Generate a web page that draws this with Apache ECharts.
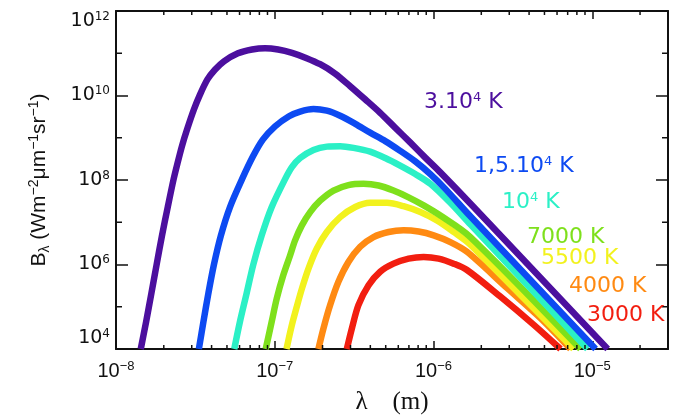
<!DOCTYPE html>
<html>
<head>
    <meta charset="utf8">
    <title>Planck</title>
    <script src="https://cdn.jsdelivr.net/npm/echarts@6/dist/echarts.min.js"></script>
</head>
<body style="margin:0">
    <div id="main" style="width: 680px;height:420px;"></div>
    <script type="text/javascript">
        // curves: [log10(lambda / m), log10(B)]
        var t30000 = [[-7.844,4.00],[-7.810,4.65],[-7.777,5.32],[-7.744,6.00],[-7.710,6.69],[-7.674,7.36],[-7.637,8.02],[-7.611,8.42],[-7.584,8.81],[-7.552,9.20],[-7.509,9.67],[-7.471,10.02],[-7.424,10.38],[-7.377,10.61],[-7.320,10.81],[-7.232,11.0],[-7.143,11.09],[-7.061,11.12],[-6.979,11.09],[-6.891,11.01],[-6.803,10.89],[-6.714,10.74],[-6.620,10.52],[-6.525,10.22],[-6.431,9.91],[-6.336,9.59],[-6.242,9.24],[-6.147,8.89],[-6.052,8.53],[-5.957,8.18],[-5.747,7.36],[-4.903,4.00]];
        var t15000 = [[-7.478,4.00],[-7.449,4.65],[-7.418,5.32],[-7.383,6.00],[-7.339,6.69],[-7.282,7.36],[-7.206,8.02],[-7.137,8.56],[-7.074,8.96],[-6.998,9.27],[-6.910,9.51],[-6.840,9.62],[-6.756,9.68],[-6.672,9.64],[-6.588,9.52],[-6.493,9.33],[-6.399,9.12],[-6.304,8.92],[-6.210,8.69],[-6.115,8.44],[-6.020,8.14],[-5.926,7.79],[-5.768,7.14],[-4.979,4.00]];
        var t10000 = [[-7.255,4.00],[-7.219,4.65],[-7.177,5.32],[-7.135,6.00],[-7.082,6.69],[-7.019,7.36],[-6.935,8.02],[-6.891,8.31],[-6.840,8.52],[-6.756,8.71],[-6.672,8.79],[-6.588,8.80],[-6.504,8.76],[-6.399,8.67],[-6.304,8.52],[-6.210,8.34],[-6.115,8.14],[-6.020,7.91],[-5.894,7.46],[-5.768,6.95],[-5.030,4.00]];
        var t7000 = [[-7.057,4.00],[-7.019,4.65],[-6.987,5.20],[-6.946,5.75],[-6.903,6.22],[-6.872,6.57],[-6.830,6.92],[-6.777,7.24],[-6.714,7.51],[-6.630,7.75],[-6.536,7.88],[-6.441,7.91],[-6.346,7.87],[-6.252,7.75],[-6.157,7.59],[-6.062,7.40],[-5.957,7.16],[-5.768,6.65],[-5.074,4.00]];
        var t5500 = [[-6.926,4.00],[-6.894,4.54],[-6.862,4.99],[-6.828,5.44],[-6.787,5.91],[-6.735,6.38],[-6.672,6.77],[-6.588,7.12],[-6.493,7.36],[-6.399,7.46],[-6.293,7.46],[-6.189,7.38],[-6.083,7.24],[-5.978,7.04],[-5.873,6.77],[-5.768,6.47],[-5.118,4.00]];
        var t4000 = [[-6.725,4.00],[-6.693,4.49],[-6.651,5.04],[-6.599,5.59],[-6.536,6.06],[-6.462,6.42],[-6.378,6.65],[-6.283,6.77],[-6.189,6.81],[-6.094,6.78],[-5.999,6.69],[-5.894,6.53],[-5.789,6.30],[-5.536,5.44],[-5.326,4.73],[-5.137,4.00]];
        var t3000 = [[-6.546,4.00],[-6.514,4.49],[-6.473,5.04],[-6.409,5.51],[-6.336,5.83],[-6.252,6.02],[-6.157,6.14],[-6.062,6.18],[-5.968,6.14],[-5.873,6.02],[-5.789,5.87],[-5.579,5.24],[-5.368,4.57],[-5.200,4.00]];

        var curves = [t3000, t4000, t5500, t7000, t10000, t15000, t30000];
        var colors = ['#f21e10', '#ff8a12', '#f2f21e', '#7ee01c', '#2bf0c6', '#0d4af2', '#4c0f9e'];
        var names = ['3000 K', '4000 K', '5500 K', '7000 K', '10{s|4} K', '1,5.10{s|4} K', '3.10{s|4} K'];
        var labelPos = [[587, 315], [569, 286], [541, 258], [527, 237], [502, 202], [474, 166], [424, 102]];

        var xMinorTicks = [2e-8,3e-8,4e-8,5e-8,6e-8,7e-8,8e-8,9e-8,2e-7,3e-7,4e-7,5e-7,6e-7,7e-7,8e-7,9e-7,2e-6,3e-6,4e-6,5e-6,6e-6,7e-6,8e-6,9e-6,2e-5];
        var yMinorTicks = [1e5, 1e7, 1e9, 1e11];

        var xMin = 1e-8, xMax = 3e-5, yMin = 1e4, yMax = 1e12;
        var axisColor = '#111';

        function powLabel(v) {
            var e = Math.log10(v);
            var r = Math.round(e);
            if (Math.abs(e - r) > 1e-6) return '';
            return '10{sup|' + (r < 0 ? '\u2212' + (-r) : r) + '}';
        }

        var myChart = echarts.init(document.getElementById('main'));

        var series = curves.map(function (c, i) {
            return {
                type: 'line',
                data: c.map(function (p) { return [Math.pow(10, p[0]), Math.pow(10, p[1])]; }),
                showSymbol: false,
                smooth: 0.3,
                clip: true,
                lineStyle: { color: colors[i], width: 6.5, join: 'round' },
                z: 2 + i
            };
        });

        series.push({
            type: 'custom',
            data: xMinorTicks.map(function (v) { return [v, yMin]; }),
            renderItem: function (params, api) {
                var b = api.coord([api.value(0), yMin]);
                var t = api.coord([api.value(0), yMax]);
                var st = { stroke: axisColor, lineWidth: 1.5 };
                return { type: 'group', children: [
                    { type: 'line', shape: { x1: b[0], y1: b[1], x2: b[0], y2: b[1] - 4 }, style: st },
                    { type: 'line', shape: { x1: t[0], y1: t[1], x2: t[0], y2: t[1] + 4 }, style: st }
                ]};
            },
            z: 20
        });
        series.push({
            type: 'custom',
            data: yMinorTicks.map(function (v) { return [xMin, v]; }),
            renderItem: function (params, api) {
                var l = api.coord([xMin, api.value(1)]);
                var r = api.coord([xMax, api.value(1)]);
                var st = { stroke: axisColor, lineWidth: 1.5 };
                return { type: 'group', children: [
                    { type: 'line', shape: { x1: l[0], y1: l[1], x2: l[0] + 6, y2: l[1] }, style: st },
                    { type: 'line', shape: { x1: r[0], y1: r[1], x2: r[0] - 6, y2: r[1] }, style: st }
                ]};
            },
            z: 20
        });

        var option = {
            backgroundColor: '#fff',
            animation: false,
            grid: { left: 116, right: 12, top: 11, bottom: 69 },
            xAxis: [{
                type: 'log', position: 'bottom', min: xMin, max: xMax,
                axisLine: { show: true, lineStyle: { color: axisColor, width: 2 } },
                axisTick: { inside: true, length: 8, lineStyle: { color: axisColor, width: 1.5 } },
                splitLine: { show: false },
                axisLabel: {
                    margin: 11, color: '#111', fontFamily: 'Liberation Sans', fontSize: 20, lineHeight: 22,
                    formatter: powLabel,
                    rich: { sup: { fontFamily: 'Liberation Sans', fontSize: 13, lineHeight: 13, verticalAlign: 'top', color: '#111' } }
                },
                name: '\u03bb    (m)', nameLocation: 'middle', nameGap: 41,
                nameTextStyle: { fontFamily: 'Liberation Serif', fontSize: 25, color: '#111' }
            }, {
                type: 'log', position: 'top', min: xMin, max: xMax,
                axisLine: { show: true, lineStyle: { color: axisColor, width: 2 } },
                axisTick: { inside: true, length: 8, lineStyle: { color: axisColor, width: 1.5 } },
                axisLabel: { show: false }, splitLine: { show: false }
            }],
            yAxis: [{
                type: 'log', logBase: 100, position: 'left', min: yMin, max: yMax,
                axisLine: { show: true, lineStyle: { color: axisColor, width: 2 } },
                axisTick: { inside: true, length: 12, lineStyle: { color: axisColor, width: 1.5 } },
                splitLine: { show: false },
                axisLabel: {
                    margin: 6, color: '#111', fontFamily: 'DejaVu Sans', fontSize: 19, lineHeight: 21,
                    formatter: powLabel,
                    verticalAlignMinLabel: 'bottom', verticalAlignMaxLabel: 'top',
                    rich: { sup: { fontFamily: 'DejaVu Sans', fontSize: 12, lineHeight: 12, verticalAlign: 'top', color: '#111' } }
                },
                name: 'B{sub|\u03bb} (Wm{sup|\u22122}\u03bcm{sup|\u22121}sr{sup|\u22121})',
                nameLocation: 'middle', nameGap: 64, nameRotate: 90,
                nameTextStyle: {
                    fontFamily: 'Liberation Sans', fontSize: 21, color: '#111', lineHeight: 25,
                    rich: {
                        sub: { fontFamily: 'Liberation Sans', fontSize: 14, lineHeight: 14, verticalAlign: 'bottom', color: '#111' },
                        sup: { fontFamily: 'Liberation Sans', fontSize: 14, lineHeight: 14, verticalAlign: 'top', color: '#111' }
                    }
                }
            }, {
                type: 'log', logBase: 100, position: 'right', min: yMin, max: yMax,
                axisLine: { show: true, lineStyle: { color: axisColor, width: 2 } },
                axisTick: { inside: true, length: 12, lineStyle: { color: axisColor, width: 1.5 } },
                axisLabel: { show: false }, splitLine: { show: false }
            }],
            graphic: names.map(function (n, i) {
                return {
                    type: 'text', x: labelPos[i][0], y: labelPos[i][1], z: 30,
                    style: {
                        text: n, fill: colors[i], font: '22px "DejaVu Sans"', verticalAlign: 'middle',
                        rich: { s: { fontFamily: 'DejaVu Sans', fontSize: 13, lineHeight: 13, verticalAlign: 'top', fill: colors[i] } }
                    }
                };
            }),
            series: series
        };
        myChart.setOption(option);
    </script>
</body>
</html>
